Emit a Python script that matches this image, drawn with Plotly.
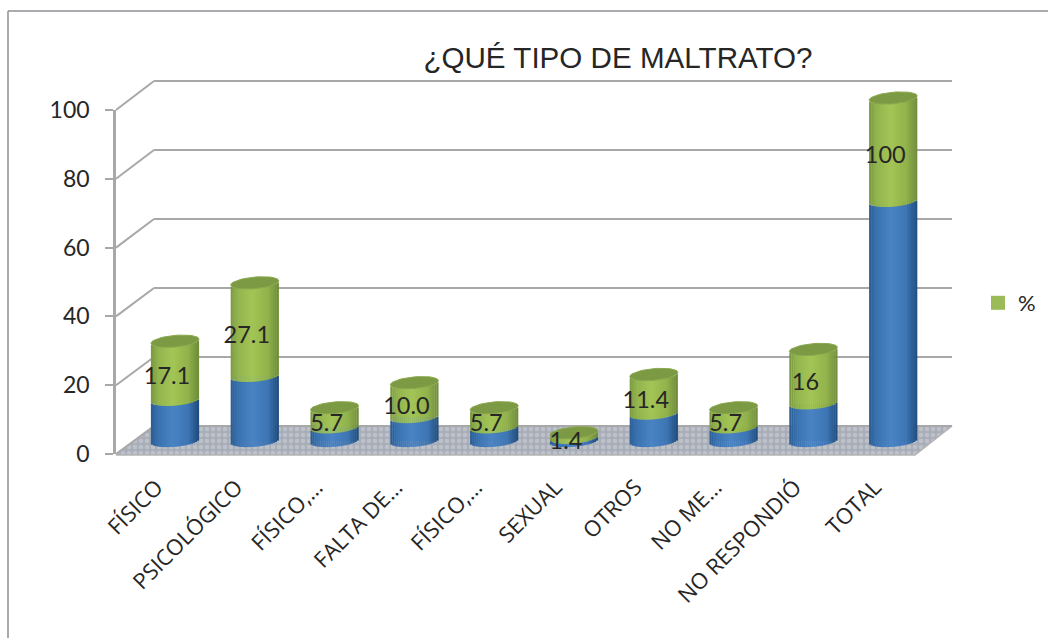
import numpy as np
import plotly.graph_objects as go

categories = ["FÍSICO", "PSICOLÓGICO", "FÍSICO,…", "FALTA DE…", "FÍSICO,…", "SEXUAL",
              "OTROS", "NO ME…", "NO RESPONDIÓ", "TOTAL"]
frecuencia = [12, 19, 4, 7, 4, 1, 8, 4, 11, 70]
porcentaje = [17.1, 27.1, 5.7, 10.0, 5.7, 1.4, 11.4, 5.7, 15.7, 100]
etiquetas = ["17.1", "27.1", "5.7", "10.0", "5.7", "1.4", "11.4", "5.7", "16", "100"]
y_ticks = [0, 20, 40, 60, 80, 100]

W, H = 1048, 638
FONT = "Lato, 'Open Sans', sans-serif"
TEXT = "#262626"
GRID = "#a8a8a8"
AXIS_MAX = 100


def px_x(v):
    return v / W


def px_y(v):
    return 1 - v / H


# geometry in pixels
PX_UNIT = 3.43
BAR0_Y = 441
DOM_BOTTOM, DOM_TOP = 469, 70
SLOT = 79.8
FIRST_X = 175
HALF_W = 24
front0, front100 = 454, 110
back0, back100 = 426, 81
BACK_UNIT = (back0 - back100) / 100
FX, BX = 116, 154
FRONT_RIGHT, BACK_RIGHT = 915, 952

# cylinder geometry in axis units
a = HALF_W / SLOT
b = 5.8 / PX_UNIT
tilt = 0.6
N = 24


def mix(c1, c2, f):
    return tuple(c1[i] + (c2[i] - c1[i]) * f for i in range(3))


def ramp(stops, t):
    for (t0, c0), (t1, c1) in zip(stops, stops[1:]):
        if t <= t1:
            c = mix(c0, c1, (t - t0) / (t1 - t0))
            return "rgb(%d,%d,%d)" % c
    return "rgb(%d,%d,%d)" % stops[-1][1]


BLUE = [(-1, (44, 92, 146)), (-0.7, (58, 114, 176)), (-0.1, (74, 132, 196)), (0.55, (62, 118, 180)), (1, (30, 74, 124))]
GREEN = [(-1, (122, 152, 64)), (-0.7, (146, 180, 78)), (-0.1, (164, 198, 86)), (0.55, (146, 178, 76)), (1, (110, 140, 58))]

ts = (np.arange(N) + 0.5) / N * 2 - 1
arc = -b * np.sqrt(1 - ts ** 2) + tilt * ts
blue = np.array(frecuencia, float)
pct = np.array(porcentaje, float)
level1 = np.minimum(blue, AXIS_MAX)
level2 = np.minimum(blue + pct, AXIS_MAX)


def strips(low, high, stops):
    xs, base, hgt, col = [], [], [], []
    for i in range(len(categories)):
        for t, d in zip(ts, arc):
            xs.append(i + t * a)
            base.append(low[i] + d)
            hgt.append(high[i] - low[i])
            col.append(ramp(stops, t))
    return xs, base, hgt, col


fig = go.Figure()

# floor, wall and oblique part of the gridlines (full page pixel axes)
fig.add_trace(go.Scatter(
    x=[FX, BX, BACK_RIGHT, FRONT_RIGHT, FX], y=[front0 + 1, back0, back0, front0 + 1, front0 + 1],
    mode="lines", fill="toself", line=dict(color="#b4b4b4", width=1.5),
    fillcolor="#a9aeb8",
    fillpattern=dict(shape=".", bgcolor="#a8adb8", fgcolor="#bdc1c9", size=6, solidity=0.45),
    xaxis="x", yaxis="y", showlegend=False, hoverinfo="skip"))
ox, oy = [], []
for v in y_ticks:
    ox += [FX, BX, None]
    oy += [front0 + (front100 - front0) * v / 100, back0 + (back100 - back0) * v / 100, None]
fig.add_trace(go.Scatter(x=ox, y=oy, mode="lines", line=dict(color=GRID, width=2),
                         xaxis="x", yaxis="y", showlegend=False, hoverinfo="skip"))
# back wall gridlines
fig.add_trace(go.Scatter(x=[0], y=[0], mode="markers", marker=dict(opacity=0), xaxis="x2", yaxis="y2",
                         showlegend=False, hoverinfo="skip"))
# front value axis
fig.add_trace(go.Scatter(x=[0], y=[0], mode="markers", marker=dict(opacity=0), xaxis="x3", yaxis="y3",
                         showlegend=False, hoverinfo="skip"))

# solid stacked columns, hidden under the shaded strips
idx = list(range(len(categories)))
fig.add_trace(go.Bar(x=idx, y=level1, base=0, width=0.5, marker=dict(color="#4a84c4", line_width=0),
                     name="n", showlegend=False, xaxis="x4", yaxis="y4", hoverinfo="skip"))
fig.add_trace(go.Bar(x=idx, y=level2 - level1, base=level1, width=0.5, marker=dict(color="#9bbb59", line_width=0),
                     name="% ", showlegend=False, xaxis="x4", yaxis="y4", hoverinfo="skip"))

# shaded cylinder bodies
sw = 2 * a / N * 1.12
for low, high, stops in [(np.zeros(len(blue)), level1, BLUE), (level1, level2, GREEN)]:
    xs, base, hgt, col = strips(low, high, stops)
    fig.add_trace(go.Bar(x=xs, y=hgt, base=base, width=sw, marker=dict(color=col, line_width=0),
                         showlegend=False, xaxis="x4", yaxis="y4", hoverinfo="skip"))

# top caps
th = np.linspace(0, 2 * np.pi, 50)
cx, cy = [], []
for i in idx:
    cx += list(i + a * np.cos(th)) + [None]
    cy += list(level2[i] + b * np.sin(th) + tilt * np.cos(th)) + [None]
fig.add_trace(go.Scatter(x=cx, y=cy, mode="lines", fill="toself", fillcolor="#7b9a43",
                         line=dict(color="#8aa84e", width=1), xaxis="x4", yaxis="y4",
                         showlegend=False, hoverinfo="skip"))

# data labels
fig.add_trace(go.Scatter(x=[i - 0.1 for i in idx], y=(level1 + level2) / 2 - 2.3, mode="text", text=etiquetas,
                         textposition="middle center", textfont=dict(family=FONT, size=23.5, color=TEXT),
                         cliponaxis=False, xaxis="x4", yaxis="y4", showlegend=False, hoverinfo="skip"))

# legend entry
fig.add_trace(go.Scatter(x=[None], y=[None], mode="markers", name="%",
                         marker=dict(symbol="square", size=14, color="#9bbb59"),
                         xaxis="x4", yaxis="y4", showlegend=True, hoverinfo="skip"))

hidden = dict(visible=False, fixedrange=True, automargin=False)
x_left = FIRST_X - SLOT / 2
x_right = x_left + SLOT * 10
fig.update_layout(
    template="none",
    width=W, height=H, margin=dict(l=0, r=0, t=0, b=0, pad=0), autosize=False,
    paper_bgcolor="white", plot_bgcolor="rgba(0,0,0,0)", barmode="overlay",
    title=dict(text="¿QUÉ TIPO DE MALTRATO?", x=px_x(618), xanchor="center", y=px_y(58), yanchor="middle",
               font=dict(family="'Liberation Sans', Arial, sans-serif", size=29.6, color=TEXT)),
    xaxis=dict(domain=[0, 1], range=[0, W], **hidden),
    yaxis=dict(domain=[0, 1], range=[H, 0], **hidden),
    xaxis2=dict(domain=[px_x(BX), px_x(BACK_RIGHT)], range=[0, 1], anchor="y2", **hidden),
    yaxis2=dict(domain=[px_y(back0 + 2 * BACK_UNIT), px_y(back100 - 2 * BACK_UNIT)], range=[-2, 102], anchor="x2",
                tickvals=y_ticks, showgrid=True, gridcolor=GRID, gridwidth=2, zeroline=False,
                showticklabels=False, showline=False, ticks="", fixedrange=True, automargin=False),
    xaxis3=dict(domain=[px_x(FX), px_x(FRONT_RIGHT)], range=[0, 1], anchor="y3", **hidden),
    yaxis3=dict(domain=[px_y(front0), px_y(front100)], range=[0, 100], anchor="x3", tickvals=y_ticks,
                showgrid=False, zeroline=False, showline=True, linecolor=GRID, linewidth=2.5,
                ticks="outside", ticklen=8, tickwidth=2, tickcolor=GRID, ticklabelstandoff=11,
                tickfont=dict(family=FONT, size=23, color=TEXT), fixedrange=True, automargin=False),
    xaxis4=dict(domain=[px_x(x_left), px_x(x_right)], range=[-0.5, 9.5], anchor="y4",
                tickvals=[i - 0.23 for i in idx], ticktext=categories, tickangle=-45, showgrid=False, zeroline=False,
                showline=False, ticks="", tickfont=dict(family="'Open Sans', sans-serif", size=22, color=TEXT),
                fixedrange=True, automargin=False),
    yaxis4=dict(domain=[px_y(DOM_BOTTOM), px_y(DOM_TOP)],
                range=[-(DOM_BOTTOM - BAR0_Y) / PX_UNIT, (BAR0_Y - DOM_TOP) / PX_UNIT], anchor="x4",
                visible=False, fixedrange=True, automargin=False),
    legend=dict(x=px_x(978), y=px_y(303), xanchor="left", yanchor="middle", bgcolor="rgba(0,0,0,0)",
                itemsizing="trace", font=dict(family=FONT, size=22, color=TEXT)),
    shapes=[
        dict(type="line", xref="paper", yref="paper", x0=px_x(8), x1=px_x(8), y0=0, y1=px_y(11),
             line=dict(color="#8f8f94", width=1.5)),
        dict(type="line", xref="paper", yref="paper", x0=px_x(8), x1=1, y0=px_y(11), y1=px_y(11),
             line=dict(color="#8f8f94", width=1.5)),
    ],
)

fig.write_html("out.html", post_script="document.body.style.margin='0';",
               config=dict(displayModeBar=False))
